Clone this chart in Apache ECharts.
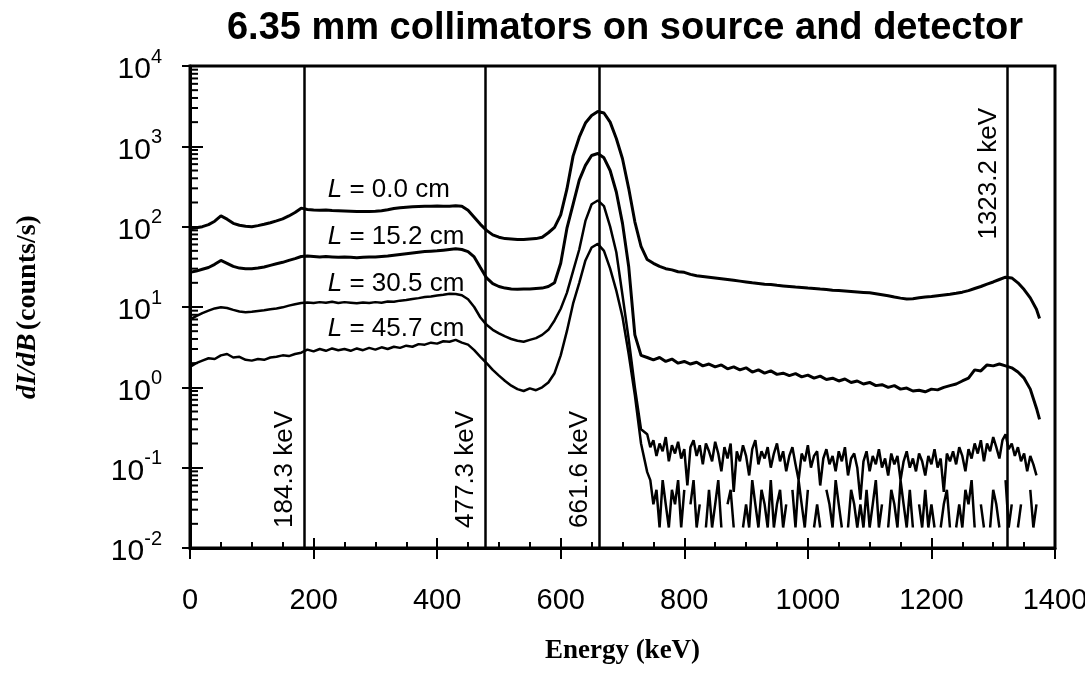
<!DOCTYPE html>
<html><head><meta charset="utf-8">
<script src="https://cdn.jsdelivr.net/npm/echarts@6/dist/echarts.min.js"></script>
<style>html,body{margin:0;padding:0;background:#fff}#c{width:1085px;height:677px}</style>
</head><body><div id="c"></div>
<script>
function range(a, b, s) { const r = []; for (let x = a; x <= b + 1e-9; x += s) r.push(Math.round(x * 10) / 10); return r; }

// Energy bins (keV)
const energyLow = range(0, 730, 10);
const energyTail = range(740, 1370, 10).concat([1375]);
const energyNoise = range(740, 1370, 5);

// L = 0.0 cm
const l0Low = [94,97,100,106,117,136,124,110,104,101,100,103,107,112,118,125,136,150,170,164,161,160,161,159,158,157,156,155,154,155,156,158,162,168,172,175,177,178,179,180,181,180,180,182,180,160,131,107,90,79,74,71,70,69,69,70,71,74,84,98,140,293,755,1300,1950,2420,2720,2600,2000,1250,700,300,115,57];
const l0Tail = [39,35,32,30,29,27.5,27,25.5,24.5,24,23.5,23,22.5,22,21.5,21,20.5,20,19.6,19.2,19,18.6,18.3,18,17.7,17.5,17.2,17,16.7,16.5,16.2,16,15.8,15.6,15.4,15.2,15,14.6,14.2,13.8,13.3,12.9,12.6,12.7,13,13.3,13.5,13.8,14.1,14.4,14.8,15.3,16,17,18,19.3,20.5,22,23.5,23,20,16.5,13,9.4,7.2];

// L = 15.2 cm
const l15Low = [27,28,29.5,31,34,38,35,32,30.5,30,30,30.5,31.5,33,34.5,36,38,40,42.5,43,42.5,42,42.5,42,41.5,42,41.5,41,41.5,42,42,42.5,43,44,45,46,47,48,49,49.5,50,51,52,53,52,49,42,31,23,19.5,18,17.2,16.8,16.6,16.7,16.8,17,17.2,18,20,35,95,190,380,580,770,815,720,500,270,110,32,4.5,2.5];
const l15Tail = [2.35,2.2,2.35,2.1,2.25,2.0,2.1,1.95,2.05,1.85,1.95,1.8,1.9,1.7,1.8,1.65,1.75,1.55,1.65,1.5,1.6,1.45,1.5,1.4,1.48,1.35,1.42,1.3,1.38,1.25,1.3,1.2,1.27,1.15,1.2,1.1,1.15,1.05,1.08,1.0,1.05,0.95,0.98,0.9,0.92,0.88,0.95,0.93,1.0,1.05,1.1,1.2,1.3,1.65,1.6,1.9,1.85,1.95,1.85,1.75,1.55,1.3,0.95,0.55,0.4];

// L = 30.5 cm
const l30Low = [7.0,7.7,8.4,9.0,9.6,9.9,9.7,9.2,8.8,8.6,8.7,8.9,9.1,9.4,9.6,9.9,10.4,10.8,11.2,11.4,11.2,11.5,11.3,11.6,11.2,11.5,11.3,11.1,11.4,11.2,11.5,11.3,11.7,11.6,12.0,12.2,12.6,12.9,13.3,13.5,13.9,14.2,14.6,14.5,14.0,12.5,10.0,7.4,6.0,5.2,4.7,4.3,4.0,3.8,3.7,3.9,4.1,4.5,5.2,6.8,9.5,15,28,52,118,190,212,180,100,48,14,4,1.0,0.3];
const l30Noise = [0.26,0.18,0.22,0.14,0.2,0.16,0.24,0.12,0.19,0.15,
  0.21,0.13,0.17,0.06,0.18,0.22,0.14,0.19,0.11,0.2,
  0.16,0.12,0.21,0.15,0.09,0.18,0.13,0.2,0.05,0.16,
  0.12,0.19,0.14,0.08,0.17,0.22,0.11,0.16,0.13,0.18,
  0.1,0.15,0.2,0.12,0.16,0.09,0.14,0.18,0.11,0.07,
  0.15,0.12,0.19,0.1,0.14,0.16,0.06,0.13,0.17,0.11,
  0.14,0.09,0.16,0.12,0.18,0.08,0.13,0.15,0.1,0.04,
  0.12,0.16,0.09,0.14,0.11,0.17,0.1,0.13,0.08,0.15,
  0.11,0.14,0.07,0.12,0.16,0.1,0.13,0.09,0.15,0.12,
  0.08,0.14,0.11,0.17,0.1,0.13,0.05,0.15,0.12,0.16,
  0.11,0.18,0.14,0.09,0.17,0.13,0.2,0.15,0.22,0.12,
  0.2,0.16,0.24,0.18,0.13,0.22,0.26,0.17,0.2,0.14,
  0.18,0.12,0.15,0.09,0.14,0.11,0.08];

// L = 45.7 cm
const l45Low = [1.8,2.0,2.15,2.3,2.25,2.5,2.6,2.35,2.4,2.2,2.15,2.25,2.2,2.35,2.4,2.5,2.45,2.6,2.7,2.95,2.8,3.0,2.85,3.05,2.9,3.0,2.85,3.05,2.9,3.1,2.95,3.15,3.0,3.2,3.1,3.3,3.2,3.45,3.4,3.6,3.5,3.75,3.7,3.9,3.6,3.4,2.9,2.4,2.0,1.65,1.4,1.2,1.05,0.95,0.9,0.97,0.92,1.0,1.15,1.5,2.5,5,11,20,38,55,61,50,30,16,7.5,2.6,0.8,0.2];
const l45Noise = [0.088,0.07,0.035,0.053,0.018,0.07,0.035,0.018,0.053,0.035,
  0.07,0.018,0.053,null,0.035,0.07,0.018,0.035,null,0.018,
  0.053,0.018,0.035,0.07,0.018,null,0.035,0.053,0.018,null,
  null,0.018,0.035,0.018,0.07,0.035,0.018,0.053,0.035,0.018,
  0.07,0.018,0.035,0.053,0.018,0.035,null,0.053,0.018,0.07,
  0.035,0.018,0.053,null,0.018,0.035,0.018,null,0.053,0.035,
  0.018,0.07,0.035,0.018,null,0.018,0.053,0.035,0.018,0.035,
  0.018,0.053,0.018,0.035,0.07,0.018,0.035,null,0.018,0.053,
  0.035,0.018,0.07,0.035,0.018,0.053,0.018,null,0.035,0.018,
  0.053,0.018,0.035,0.018,null,0.018,0.035,0.053,0.018,null,
  0.018,0.035,0.018,0.053,0.035,0.07,0.018,null,0.035,0.018,
  null,0.018,0.053,0.035,0.018,null,0.07,0.018,0.035,null,
  0.018,0.035,null,null,0.053,0.018,0.035];

const curveLabels = ['0.0', '15.2', '30.5', '45.7'];
const peakEnergies = [184.3, 477.3, 661.6, 1323.2];
const xTickStep = 200;

function zip(xs, ys) { return xs.map((x, i) => [x, ys[i]]); }

const yMinorTicks = [];
for (let e = -2; e < 4; e++) for (let m = 2; m <= 9; m++) yMinorTicks.push([0, m * Math.pow(10, e)]);

const SANS = 'Liberation Sans';
const SERIF = 'Liberation Serif';
const black = '#000';

function lineSeries(name, data, width, labelIdx, anchor) {
  return {
    name, type: 'line', data, showSymbol: false, symbol: 'none', connectNulls: false,
    lineStyle: { color: black, width }, itemStyle: { color: black }, z: 3, silent: true,
    markPoint: anchor ? {
      symbol: 'circle', symbolSize: 0, silent: true,
      itemStyle: { color: 'rgba(0,0,0,0)' },
      label: {
        show: true, position: 'right', distance: 0, color: black,
        formatter: '{i|L}{n| = ' + curveLabels[labelIdx] + ' cm}',
        rich: {
          i: { fontFamily: SANS, fontSize: 26, fontStyle: 'italic', color: black },
          n: { fontFamily: SANS, fontSize: 26, color: black }
        }
      },
      data: [{ coord: anchor }]
    } : undefined
  };
}

const s0 = lineSeries('L=0.0', zip(energyLow, l0Low).concat(zip(energyTail, l0Tail)), 3, 0, [223, 285]);
s0.markLine = {
  silent: true, symbol: ['none', 'none'], animation: false,
  lineStyle: { color: black, width: 2.5, type: 'solid' },
  data: peakEnergies.map((e, i) => ({
    xAxis: e,
    label: {
      show: true, formatter: e.toFixed(1) + ' keV',
      position: i === 3 ? 'insideEndTop' : 'insideStartTop',
      distance: i === 3 ? [42, 6] : [20, 6],
      fontFamily: SANS, fontSize: 26, color: black
    }
  }))
};

const option = {
  backgroundColor: '#fff',
  animation: false,
  title: {
    text: '6.35 mm collimators on source and detector',
    left: 620, top: 5, textAlign: 'center',
    textStyle: { fontFamily: SANS, fontWeight: 'bold', fontSize: 38, color: black }
  },
  grid: { left: 190, right: 30, top: 66, bottom: 129, show: true, borderColor: black, borderWidth: 3, outerBoundsMode: 'none' },
  xAxis: [{
    type: 'value', min: 0, max: 1400, interval: xTickStep, position: 'bottom',
    name: 'Energy (keV)', nameLocation: 'middle', nameGap: 90,
    nameTextStyle: { fontFamily: SERIF, fontWeight: 'bold', fontSize: 27, color: black },
    axisLine: { show: true, lineStyle: { color: black, width: 3 } },
    axisTick: { show: true, inside: true, length: 10, lineStyle: { color: black, width: 2 } },
    minorTick: { show: true, splitNumber: 4, length: 6, lineStyle: { color: black, width: 2 } },
    axisLabel: { margin: 38, fontFamily: SANS, fontSize: 29, color: black, formatter: v => String(v) },
    splitLine: { show: false }
  }, {
    type: 'value', min: 0, max: 1400, interval: xTickStep, position: 'bottom',
    axisLine: { show: false },
    axisTick: { show: true, inside: false, length: 11, lineStyle: { color: black, width: 2 } },
    axisLabel: { show: false }, splitLine: { show: false }
  }],
  yAxis: [{
    type: 'log', logBase: 10, min: 0.01, max: 10000, position: 'left',
    name: '{it|dI/dB} {n|(counts/s)}', nameLocation: 'middle', nameGap: 148, nameRotate: 90,
    nameTextStyle: {
      rich: {
        it: { fontFamily: SERIF, fontWeight: 'bold', fontStyle: 'italic', fontSize: 28, color: black },
        n: { fontFamily: SERIF, fontWeight: 'bold', fontSize: 28, color: black }
      }
    },
    axisLine: { show: true, lineStyle: { color: black, width: 3 } },
    axisTick: { show: true, inside: true, length: 13, lineStyle: { color: black, width: 2 } },
    axisLabel: {
      margin: 28, color: black,
      formatter: v => '{b|10}{s|' + Math.round(Math.log10(v)) + '}',
      rich: {
        b: { fontFamily: SANS, fontSize: 30, color: black, verticalAlign: 'bottom', lineHeight: 38 },
        s: { fontFamily: SANS, fontSize: 20, color: black, verticalAlign: 'top', lineHeight: 38 }
      }
    },
    splitLine: { show: false }
  }, {
    type: 'log', logBase: 10, min: 0.01, max: 10000, position: 'left',
    axisLine: { show: false },
    axisTick: { show: true, inside: false, length: 8, lineStyle: { color: black, width: 2 } },
    axisLabel: { show: false }, splitLine: { show: false }
  }],
  series: [
    s0,
    lineSeries('L=15.2', zip(energyLow, l15Low).concat(zip(energyTail, l15Tail)), 3, 1, [223, 74]),
    lineSeries('L=30.5', zip(energyLow, l30Low).concat(zip(energyNoise, l30Noise)), 2.5, 2, [223, 19.5]),
    lineSeries('L=45.7', zip(energyLow, l45Low).concat(zip(energyNoise, l45Noise)), 2.5, 3, [223, 5.4]),
    {
      type: 'custom', name: 'yMinorTicks', silent: true, z: 4,
      data: yMinorTicks,
      renderItem: function (params, api) {
        const p = api.coord([api.value(0), api.value(1)]);
        return { type: 'line', shape: { x1: p[0], y1: p[1], x2: p[0] + 8, y2: p[1] }, style: { stroke: black, lineWidth: 2 } };
      }
    }
  ]
};

const chart = echarts.init(document.getElementById('c'), null, { renderer: 'canvas' });
chart.setOption(option);
</script></body></html>
